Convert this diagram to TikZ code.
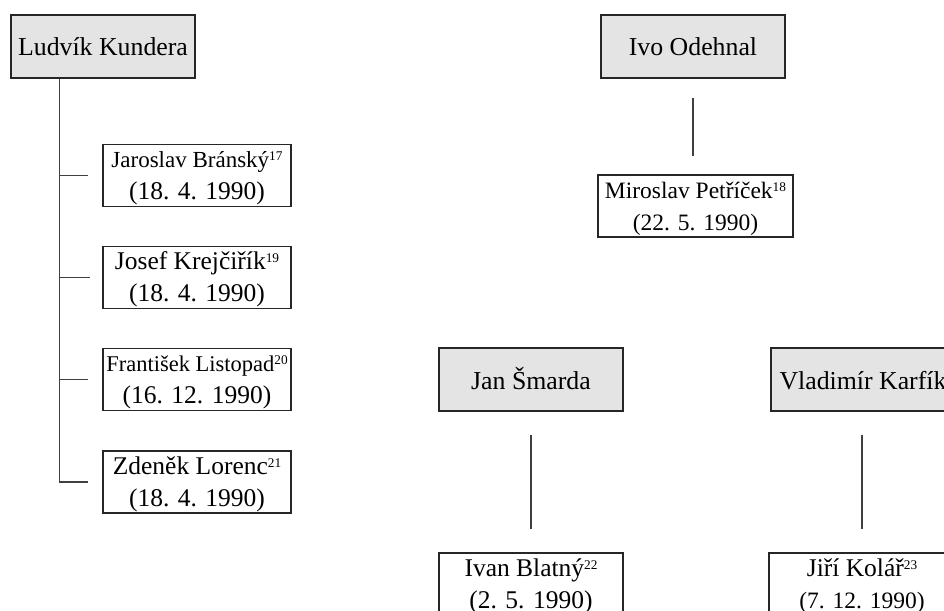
\documentclass[tikz,border=0pt]{standalone}
\usepackage{fontspec}
\setmainfont{Liberation Serif}
\usetikzlibrary{calc}
\definecolor{boxgray}{RGB}{228,228,228}
\newcommand{\supnum}[1]{\raisebox{7pt}{\fontsize{13.3}{13.3}\selectfont #1}}
\newcommand{\fsz}[1]{\fontsize{#1}{32}\selectfont}
\begin{document}
\begin{tikzpicture}[x=1pt,y=-1pt,
  boxbase/.style={draw=black!85,line width=1.4pt,rectangle,inner sep=0pt,align=center},
  parentbox/.style={boxbase,fill=boxgray,minimum width=184pt,minimum height=63pt,
    font=\fsz{25.8},text height=19pt,text depth=0pt},
  childbox/.style={boxbase,fill=white,minimum height=62pt,font=\fsz{25.5},
    text height=55pt,text depth=7pt},
  conn/.style={draw=black!75,line width=1.2pt}]
\useasboundingbox (0,0) rectangle (944,610);

% left group
\node[parentbox] (lud) at (103,46.5) {Ludvík Kundera};
\node[childbox,minimum width=188pt] (jar) at (197,175.5)
  {{\fsz{23}Jaroslav Bránský}\supnum{17}\\(18. 4. 1990)};
\node[childbox,minimum width=188pt] (jos) at (197,277.5)
  {Josef Krejčiřík\supnum{19}\\(18. 4. 1990)};
\node[childbox,minimum width=188pt] (fra) at (197,379.5)
  {{\fsz{22.5}František Listopad}\supnum{20}\\(16. 12. 1990)};
\node[childbox,minimum width=188pt] (zde) at (197,482)
  {Zdeněk Lorenc\supnum{21}\\(18. 4. 1990)};

\coordinate (trunk) at ($(lud.south west)+(49,0)$);
\draw[conn] (trunk) |- ([xshift=-14pt]zde.west);
\draw[conn] (trunk |- jar.west) -- ([xshift=-14pt]jar.west);
\draw[conn] (trunk |- jos.west) -- ([xshift=-12pt]jos.west);
\draw[conn] (trunk |- fra.west) -- ([xshift=-14pt]fra.west);

% Ivo Odehnal
\node[parentbox] (ivo) at (693,46.5) {Ivo Odehnal};
\node[childbox,minimum width=195pt,font=\fsz{23.5}] (mir) at (695.5,206)
  {Miroslav Petříček\supnum{18}\\(22. 5. 1990)};
\draw[conn,shorten <=19pt,shorten >=18pt] (ivo.south) -- (ivo.south |- mir.north);

% Jan Smarda
\node[parentbox] (jan) at (531,379.5) {Jan Šmarda};
\node[childbox,minimum width=184pt] (iva) at (531,584)
  {Ivan Blatný\supnum{22}\\(2. 5. 1990)};
\draw[conn,shorten <=23pt,shorten >=23pt] (jan.south) -- (jan.south |- iva.north);

% Vladimir Karfik
\node[parentbox] (vla) at (863,379.5) {Vladimír Karfík};
\node[childbox,minimum width=186pt] (jir) at (862,584)
  {Jiří Kolář\supnum{23}\\{\fsz{23.5}(7. 12. 1990)}};
\draw[conn,shorten <=23pt,shorten >=23pt] ([xshift=-1pt]vla.south) -- ([xshift=-1pt]vla.south |- jir.north);
\end{tikzpicture}
\end{document}
